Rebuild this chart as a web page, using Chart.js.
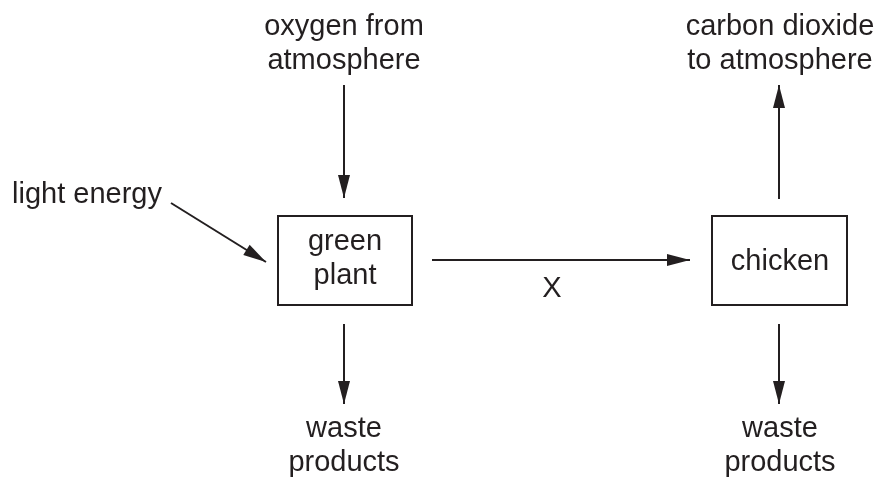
<!DOCTYPE html>
<html>
<head>
<meta charset="utf-8">
<script src="https://cdn.jsdelivr.net/npm/chart.js@4"></script>
<style>
  html, body { margin: 0; padding: 0; background: #fff; }
  #wrap { width: 879px; height: 477px; }
</style>
</head>
<body>
<div id="wrap"><canvas id="myChart"></canvas></div>
<script>
// diagram text, placed in the data space (x 0..879, y 0..477 from top)
const labels = ['oxygen from\natmosphere', 'light energy', 'green\nplant', 'X', 'chicken',
                'carbon dioxide\nto atmosphere', 'waste\nproducts', 'waste\nproducts'];
const labelX = [344, 87, 345, 552, 780, 780, 344, 780];
const labelY = [35, 203, 250, 297, 270, 35, 437, 437];

// boxes around the two organisms
const boxLeft = [278, 712];
const boxRight = [412, 847];
const boxTop = [216, 216];
const boxBottom = [305, 305];

// arrows: start point -> tip
const arrowFromX = [344, 171, 432, 779, 344, 779];
const arrowFromY = [85, 203, 260, 199, 324, 324];
const arrowToX = [344, 266, 690, 779, 344, 779];
const arrowToY = [198, 262, 260, 85, 404, 404];

const ink = '#231f20';

const lineSets = arrowFromX.map((x, i) => ({
    data: [{ x: x, y: arrowFromY[i] }, { x: arrowToX[i], y: arrowToY[i] }],
    showLine: true,
    borderColor: ink,
    borderWidth: 2,
    pointRadius: 0,
    fill: false
}));

const diagramPlugin = {
    id: 'diagram',
    afterDatasetsDraw(chart) {
        const ctx = chart.ctx;
        const sx = chart.scales.x, sy = chart.scales.y;
        ctx.save();
        ctx.strokeStyle = ink;
        ctx.fillStyle = ink;

        // boxes
        ctx.lineWidth = 2;
        for (let i = 0; i < boxLeft.length; i++) {
            const l = sx.getPixelForValue(boxLeft[i]), r = sx.getPixelForValue(boxRight[i]);
            const t = sy.getPixelForValue(boxTop[i]), b = sy.getPixelForValue(boxBottom[i]);
            ctx.strokeRect(l, t, r - l, b - t);
        }

        // arrow heads
        for (let i = 0; i < arrowToX.length; i++) {
            const x0 = sx.getPixelForValue(arrowFromX[i]), y0 = sy.getPixelForValue(arrowFromY[i]);
            const x1 = sx.getPixelForValue(arrowToX[i]), y1 = sy.getPixelForValue(arrowToY[i]);
            const a = Math.atan2(y1 - y0, x1 - x0);
            const len = 23, half = 6;
            ctx.beginPath();
            ctx.moveTo(x1, y1);
            ctx.lineTo(x1 - len * Math.cos(a) + half * Math.sin(a), y1 - len * Math.sin(a) - half * Math.cos(a));
            ctx.lineTo(x1 - len * Math.cos(a) - half * Math.sin(a), y1 - len * Math.sin(a) + half * Math.cos(a));
            ctx.closePath();
            ctx.fill();
        }

        // text
        ctx.font = '29px "Liberation Sans", Arial, sans-serif';
        ctx.textAlign = 'center';
        ctx.textBaseline = 'alphabetic';
        labels.forEach((txt, i) => {
            const x = sx.getPixelForValue(labelX[i]);
            txt.split('\n').forEach((line, j) => {
                const y = sy.getPixelForValue(labelY[i] + j * 33.5);
                ctx.fillText(line, x, y);
            });
        });
        ctx.restore();
    }
};

var ctx = document.getElementById('myChart').getContext('2d');
var myChart = new Chart(ctx, {
    type: 'scatter',
    data: { datasets: lineSets },
    options: {
        responsive: true,
        maintainAspectRatio: false,
        animation: false,
        layout: { padding: 0 },
        plugins: { legend: { display: false }, tooltip: { enabled: false } },
        scales: {
            x: { type: 'linear', min: 0, max: 879, display: false },
            y: { type: 'linear', min: 0, max: 477, reverse: true, display: false }
        }
    },
    plugins: [diagramPlugin]
});
</script>
</body>
</html>
